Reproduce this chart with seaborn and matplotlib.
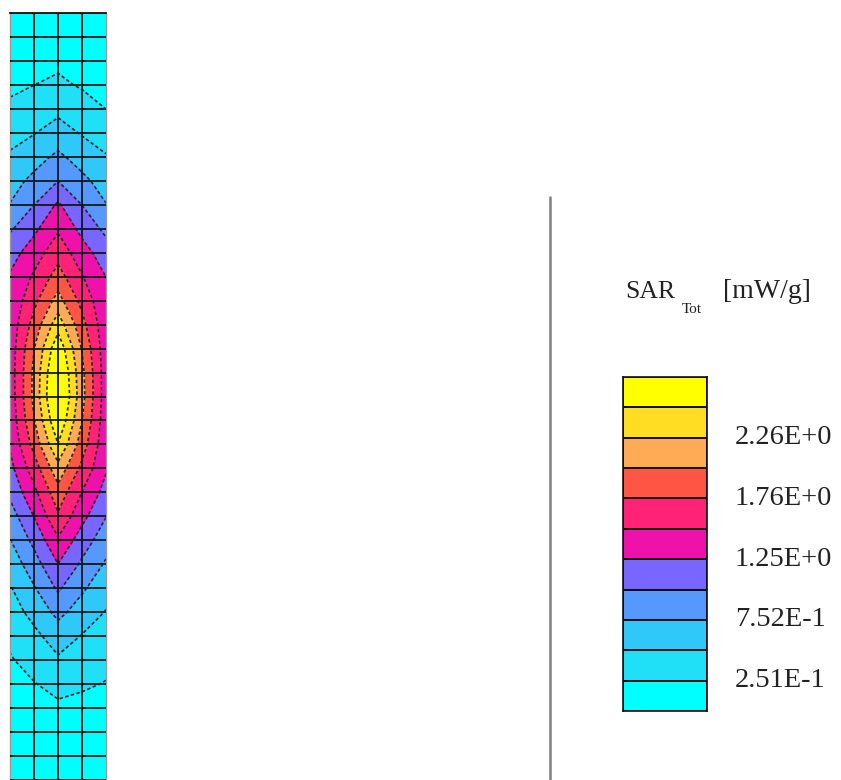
import numpy as np
import pandas as pd
import matplotlib
matplotlib.use("Agg")
import matplotlib.pyplot as plt
import seaborn as sns
from matplotlib.colors import ListedColormap
from matplotlib.lines import Line2D
from matplotlib.transforms import blended_transform_factory

# SAR at the mesh nodes (mW/g), one value per row, top row first
sar_left = [0.07, 0.11, 0.15, 0.21, 0.29, 0.40, 0.54, 0.66, 0.76, 0.97, 1.15,
            1.28, 1.30, 1.34, 1.36, 1.37, 1.36, 1.33, 1.28, 1.18, 1.06, 0.88,
            0.74, 0.60, 0.48, 0.39, 0.30, 0.23, 0.18, 0.14, 0.11, 0.08, 0.06]
sar_left_mid = [0.08, 0.13, 0.18, 0.25, 0.36, 0.49, 0.66, 0.81, 1.00, 1.20, 1.38,
                1.54, 1.69, 1.85, 2.00, 2.06, 2.07, 1.99, 1.84, 1.63, 1.44, 1.26,
                1.07, 0.89, 0.73, 0.58, 0.44, 0.34, 0.24, 0.17, 0.13, 0.09, 0.07]
sar_centre = [0.10, 0.15, 0.21, 0.29, 0.44, 0.61, 0.80, 1.00, 1.29, 1.47, 1.66,
              1.86, 2.10, 2.40, 2.70, 2.85, 2.90, 2.75, 2.50, 2.17, 1.91, 1.72,
              1.47, 1.25, 1.04, 0.82, 0.62, 0.47, 0.32, 0.21, 0.15, 0.11, 0.08]
sar_right_mid = [0.08, 0.12, 0.17, 0.23, 0.34, 0.48, 0.65, 0.81, 1.00, 1.18, 1.36,
                 1.52, 1.68, 1.84, 1.99, 2.07, 2.09, 2.01, 1.88, 1.69, 1.50, 1.33,
                 1.13, 0.96, 0.79, 0.64, 0.49, 0.38, 0.28, 0.19, 0.14, 0.10, 0.08]
sar_right = [0.06, 0.09, 0.13, 0.18, 0.25, 0.38, 0.52, 0.65, 0.76, 0.94, 1.12,
             1.25, 1.30, 1.33, 1.35, 1.37, 1.37, 1.35, 1.32, 1.28, 1.16, 1.01,
             0.86, 0.72, 0.59, 0.49, 0.39, 0.31, 0.24, 0.18, 0.13, 0.10, 0.07]

levels = [0.0, 0.251, 0.502, 0.752, 1.003, 1.254, 1.505, 1.756, 2.006, 2.257, 2.508, 3.2]
band_colors = ['#00ffff', '#20e0f8', '#30c8f8', '#5599ff', '#7766ff', '#ee11aa',
               '#ff2277', '#ff5544', '#ffaa55', '#ffdd22', '#ffff00']
label_levels = [1, 3, 5, 7, 9]
label_texts = ["2.51E-1", "7.52E-1", "1.25E+0", "1.76E+0", "2.26E+0"]

sns.set_style("white")
plt.rcParams['font.family'] = ['Liberation Serif', 'DejaVu Serif']

W, H = 841, 780
fig = plt.figure(figsize=(W / 100, H / 100), dpi=100)

# contour map of the slab
ax = fig.add_axes([10 / W, 0, 96 / W, (H - 13) / H])
sar = pd.DataFrame({0: sar_left, 1: sar_left_mid, 2: sar_centre,
                    3: sar_right_mid, 4: sar_right})
X, Y = np.meshgrid(sar.columns.astype(float), sar.index.astype(float))
ax.contourf(X, Y, sar.values, levels=levels, colors=band_colors)
ax.contour(X, Y, sar.values, levels=levels[1:-1], colors='#262626',
           linewidths=1.2, linestyles=[(0, (2, 1.5))])
ax.set_xlim(0, 4)
ax.set_ylim((H - 13) / 24.1, 0)
ax.set_xticks([1, 2, 3])
ax.set_yticks(sar.index)
ax.tick_params(length=0, labelbottom=False, labelleft=False)
ax.grid(True, color='#101818', lw=1.3)
ax.set_axisbelow(False)
ax.spines['bottom'].set_visible(False)
ax.spines['top'].set_color('#101010')
ax.spines['top'].set_linewidth(1.3)
for s in ['left', 'right']:
    ax.spines[s].set_color('#9a9a9a')
    ax.spines[s].set_linewidth(1.0)

# divider
fig.add_artist(Line2D([550 / W, 550 / W], [0, 1 - 197 / H], color='#808080', lw=1.8))

# legend
lax = fig.add_axes([623 / W, 1 - 711 / H, 84 / W, 334 / H])
n = len(band_colors)
sns.heatmap(np.arange(n)[::-1].reshape(-1, 1), cmap=ListedColormap(band_colors),
            vmin=-0.5, vmax=n - 0.5, cbar=False, linewidths=1.2, linecolor='#111111',
            xticklabels=False, yticklabels=False, ax=lax)
for s in lax.spines.values():
    s.set_visible(True)
    s.set_color('#111111')
    s.set_linewidth(1.2)

tr = blended_transform_factory(lax.transAxes, lax.transData)
for j, txt in zip(label_levels, label_texts):
    lax.text(1.33, n - j, txt, transform=tr, va='center', ha='left',
             fontsize=20.5, color='#222222')

fig.text(625 / W, 1 - 298 / H, "SAR", fontsize=18.5, va='baseline', color='#222222')
fig.text(682 / W, 1 - 313 / H, "Tot", fontsize=11, va='baseline', color='#222222')
fig.text(723 / W, 1 - 298 / H, "[mW/g]", fontsize=20, va='baseline', color='#222222')

fig.savefig("out.png", dpi=100)
